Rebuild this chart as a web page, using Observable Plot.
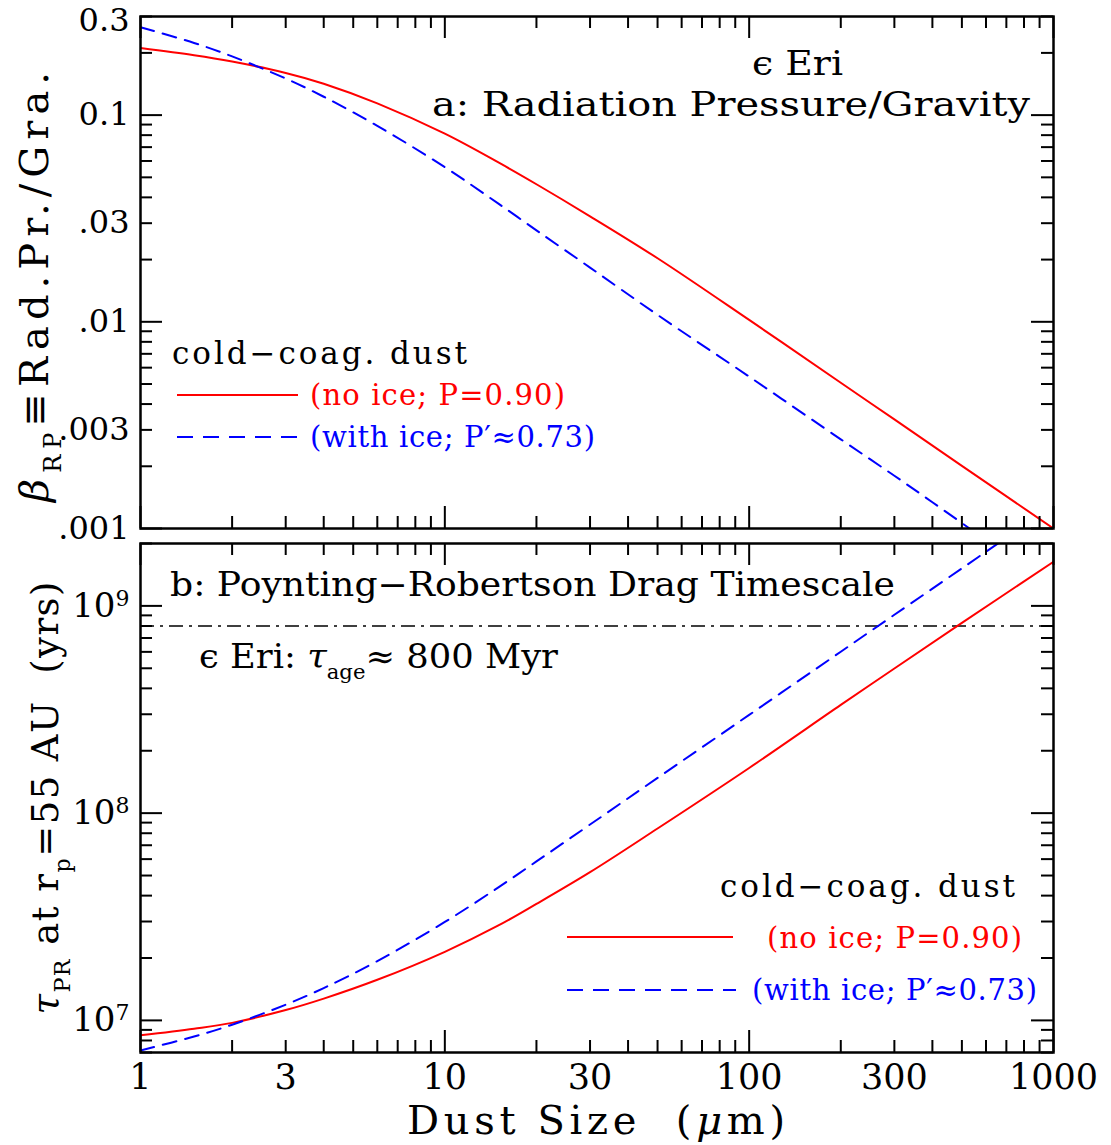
<!DOCTYPE html>
<html>
<head>
<meta charset="utf-8">
<script src="https://cdn.jsdelivr.net/npm/d3@7"></script>
<script src="https://cdn.jsdelivr.net/npm/@observablehq/plot@0.6"></script>
<style>
  html, body { margin: 0; padding: 0; background: #ffffff; }
  #wrap { position: relative; width: 1111px; height: 1145px; background: #ffffff; }
  #wrap svg { position: absolute; left: 0; top: 0; }
</style>
</head>
<body>
<div id="wrap"></div>
<script>
// ---------------- data ----------------
const sizesNoIce = [1, 1.5, 2, 3, 4, 6, 10, 15, 20, 30, 50, 100, 200, 300, 500, 1000];
const betaNoIce  = [0.2113, 0.1950, 0.1816, 0.1600, 0.1419, 0.1140, 0.0813, 0.0590, 0.0463, 0.0324, 0.0203, 0.01021, 0.00507, 0.00337, 0.00201, 0.0010];
const sizesIce   = [1, 1.5, 2, 3, 4, 6, 10, 15, 20, 30, 50, 100, 200, 300, 400, 530];
const betaIce    = [0.266, 0.2234, 0.1923, 0.1503, 0.1227, 0.0887, 0.0560, 0.0373, 0.0277, 0.0183, 0.0108, 0.00543, 0.00270, 0.00180, 0.00134, 0.0010];

const sizesTauNoIce = [1, 1.5, 2, 3, 4, 6, 10, 15, 20, 30, 50, 100, 200, 300, 500, 1000];
const tauNoIce      = [8.47e6, 9.12e6, 9.73e6, 1.122e7, 1.274e7, 1.570e7, 2.143e7, 2.871e7, 3.648e7, 5.19e7, 8.43e7, 1.652e8, 3.327e8, 4.989e8, 8.28e8, 1.633e9];
const sizesTauIce   = [1, 1.5, 2, 3, 4, 6, 10, 15, 20, 30, 50, 100, 200, 300, 500, 700];
const tauIce        = [7.16e6, 8.36e6, 9.53e6, 1.191e7, 1.432e7, 1.932e7, 2.985e7, 4.385e7, 5.848e7, 8.81e7, 1.479e8, 2.979e8, 6.01e8, 9.06e8, 1.517e9, 2.133e9];

const ageEpsEri = [8e8];

const xTicks       = [1, 3, 10, 30, 100, 300, 1000];
const xTickLabels  = ["1", "3", "10", "30", "100", "300", "1000"];
const betaTicks      = [0.3, 0.1, 0.03, 0.01, 0.003, 0.001];
const betaTickLabels = ["0.3", "0.1", ".03", ".01", ".003", ".001"];
const tauTicks      = [1e7, 1e8, 1e9];
const tauTickLabels = ["10^7", "10^8", "10^9"];

const xDomain    = [1, 1000];
const betaDomain = [0.001, 0.3];
const tauDomain  = [7e6, 2e9];

// ---------------- helpers ----------------
const RED = "#ff0000", BLUE = "#0000ff";
const SERIF = "'DejaVu Serif', 'Liberation Serif', serif";

function logMinor(decades, lo, hi) {
  const out = [];
  for (const k of decades) for (let m = 2; m <= 9; m++) {
    const v = +(m * k).toPrecision(6);
    if (v >= lo * 0.9999 && v <= hi * 1.0001) out.push(v);
  }
  return out;
}

function frameTicks(xMajor, xMinor, yMajor, yMinor, fw, fh) {
  const ML = 22, ml = 12, sw = 2;
  return [
    Plot.tickX(xMajor, {x: d => d, insetTop: fh - ML, strokeWidth: sw}),
    Plot.tickX(xMajor, {x: d => d, insetBottom: fh - ML, strokeWidth: sw}),
    Plot.tickX(xMinor, {x: d => d, insetTop: fh - ml, strokeWidth: sw}),
    Plot.tickX(xMinor, {x: d => d, insetBottom: fh - ml, strokeWidth: sw}),
    Plot.tickY(yMajor, {y: d => d, insetRight: fw - ML, strokeWidth: sw}),
    Plot.tickY(yMajor, {y: d => d, insetLeft: fw - ML, strokeWidth: sw}),
    Plot.tickY(yMinor, {y: d => d, insetRight: fw - ml, strokeWidth: sw}),
    Plot.tickY(yMinor, {y: d => d, insetLeft: fw - ml, strokeWidth: sw})
  ];
}

function rich(svg, {x, y, parts, size, family = SERIF, fill = "black", anchor = "start", rotate = 0, length = null, adjust = "spacing"}) {
  const t = d3.select(svg).append("text")
    .attr("transform", `translate(${x},${y}) rotate(${rotate})`)
    .attr("font-size", size)
    .attr("font-family", family)
    .attr("fill", fill)
    .attr("text-anchor", anchor)
    .style("white-space", "pre");
  if (length) t.attr("textLength", length).attr("lengthAdjust", adjust);
  let shift = 0;
  for (const p of parts) {
    const [str, kind] = typeof p === "string" ? [p, null] : p;
    const ts = t.append("tspan").text(str);
    const target = kind === "sub" ? 0.32 * size : kind === "sup" ? -0.42 * size : 0;
    if (target - shift !== 0) ts.attr("dy", target - shift);
    shift = target;
    if (kind === "sub" || kind === "sup") ts.attr("font-size", size * 0.6);
    if (kind === "it") ts.attr("font-style", "italic");
  }
  return t;
}

function legendLine(svg, x1, x2, y, color, dash) {
  const l = d3.select(svg).append("line")
    .attr("x1", x1).attr("x2", x2).attr("y1", y).attr("y2", y)
    .attr("stroke", color).attr("stroke-width", 2);
  if (dash) l.attr("stroke-dasharray", dash);
}

// ---------------- layout ----------------
const W = 1111, H = 1145;
const ML = 140, MR = 58;
const topFrame = {top: 16, bottom: 528};
const botFrame = {top: 543, bottom: 1052};
const FW = W - ML - MR;

const xMajor = [1, 10, 100, 1000];
const xMinor = logMinor([1, 10, 100], 1, 1000);

// ---------------- panel a ----------------
const betaMajor = [0.001, 0.01, 0.1];
const betaMinor = logMinor([0.001, 0.01, 0.1], 0.001, 0.3);
const fhA = topFrame.bottom - topFrame.top;

const plotA = Plot.plot({
  width: W, height: H,
  marginLeft: ML, marginRight: MR, marginTop: topFrame.top, marginBottom: H - topFrame.bottom,
  style: {background: "transparent", overflow: "visible"},
  x: {type: "log", domain: xDomain, axis: null},
  y: {type: "log", domain: betaDomain},
  marks: [
    Plot.line(betaNoIce, {x: sizesNoIce, y: betaNoIce, stroke: RED, strokeWidth: 2, curve: "catmull-rom", clip: true}),
    Plot.line(betaIce, {x: sizesIce, y: betaIce, stroke: BLUE, strokeWidth: 2, strokeDasharray: "14,9", curve: "catmull-rom", clip: true}),
    ...frameTicks(xMajor, xMinor, betaMajor, betaMinor, FW, fhA),
    Plot.axisY({ticks: betaTicks, tickFormat: d => betaTickLabels[betaTicks.indexOf(d)], tickSize: 0, tickPadding: 11,
                fontSize: 32, fontFamily: SERIF}),
    Plot.frame({strokeWidth: 2.5})
  ]
});

// ---------------- panel b ----------------
const tauMajor = [1e7, 1e8, 1e9];
const tauMinor = logMinor([1e6, 1e7, 1e8, 1e9], 7e6, 2e9);
const fhB = botFrame.bottom - botFrame.top;

const plotB = Plot.plot({
  width: W, height: H,
  marginLeft: ML, marginRight: MR, marginTop: botFrame.top, marginBottom: H - botFrame.bottom,
  style: {background: "transparent", overflow: "visible"},
  x: {type: "log", domain: xDomain},
  y: {type: "log", domain: tauDomain},
  marks: [
    Plot.ruleY(ageEpsEri, {y: d => d, strokeWidth: 1.6, strokeDasharray: "14,6,3,6"}),
    Plot.line(tauNoIce, {x: sizesTauNoIce, y: tauNoIce, stroke: RED, strokeWidth: 2, curve: "catmull-rom", clip: true}),
    Plot.line(tauIce, {x: sizesTauIce, y: tauIce, stroke: BLUE, strokeWidth: 2, strokeDasharray: "14,9", curve: "catmull-rom", clip: true}),
    ...frameTicks(xMajor, xMinor, tauMajor, tauMinor, FW, fhB),
    Plot.axisY({ticks: tauTicks, tickFormat: d => tauTickLabels[tauTicks.indexOf(d)], tickSize: 0, tickPadding: 11,
                fontSize: 34, fontFamily: SERIF}),
    Plot.axisX({ticks: xTicks, tickFormat: d => xTickLabels[xTicks.indexOf(d)], tickSize: 0, tickPadding: 12,
                fontSize: 35, fontFamily: SERIF}),
    Plot.frame({strokeWidth: 2.5})
  ]
});

const wrap = document.getElementById("wrap");
wrap.appendChild(plotA);
wrap.appendChild(plotB);

// nudge the top-edge label "0.3" slightly down so it stays inside the picture
d3.select(plotA).selectAll('g[aria-label="y-axis tick label"] text').each(function () {
  if (this.textContent === "0.3") d3.select(this).attr("dy", 4);
});

// superscript exponents on the tau tick labels
d3.select(plotB).selectAll('g[aria-label="y-axis tick label"] text').each(function () {
  const txt = this.textContent;
  if (!txt.includes("^")) return;
  const [base, exp] = txt.split("^");
  const s = d3.select(this);
  s.text(null);
  s.append("tspan").text(base);
  s.append("tspan").attr("font-size", 22).attr("dy", "-0.5em").text(exp);
});

// ---------------- annotations, panel a ----------------
rich(plotA, {x: 752, y: 75, parts: ["ϵ Eri"], size: 33, length: 91, adjust: "spacingAndGlyphs"});
rich(plotA, {x: 432, y: 116, parts: ["a: Radiation Pressure/Gravity"], size: 33, length: 598, adjust: "spacingAndGlyphs"});
rich(plotA, {x: 172, y: 364, parts: ["cold−coag. dust"], size: 31, length: 295});
legendLine(plotA, 177, 298, 395, RED, null);
rich(plotA, {x: 310, y: 405, parts: ["(no ice; P=0.90)"], size: 29, fill: RED, length: 255});
legendLine(plotA, 177, 298, 437, BLUE, "16,10");
rich(plotA, {x: 310, y: 447, parts: ["(with ice; P′≈0.73)"], size: 29, fill: BLUE, length: 285});

// y title, panel a
rich(plotA, {x: 48, y: 287, rotate: -90, anchor: "middle", size: 40, length: 430,
  parts: [["β", "it"], ["RP", "sub"], "≡Rad.Pr./Gra."]});

// ---------------- annotations, panel b ----------------
rich(plotB, {x: 170, y: 596, parts: ["b: Poynting−Robertson Drag Timescale"], size: 33, length: 725, adjust: "spacingAndGlyphs"});
rich(plotB, {x: 199, y: 668, parts: ["ϵ Eri: ", ["τ", "it"], ["age", "sub"], "≈ 800 Myr"], size: 33, length: 359, adjust: "spacingAndGlyphs"});
rich(plotB, {x: 720, y: 897, parts: ["cold−coag. dust"], size: 31, length: 295});
legendLine(plotB, 567, 733, 937, RED, null);
rich(plotB, {x: 767, y: 948, parts: ["(no ice; P=0.90)"], size: 29, fill: RED, length: 255});
legendLine(plotB, 567, 736, 990, BLUE, "16,10");
rich(plotB, {x: 752, y: 1000, parts: ["(with ice; P′≈0.73)"], size: 29, fill: BLUE, length: 285});

// y title, panel b
rich(plotB, {x: 58, y: 798, rotate: -90, anchor: "middle", size: 37, length: 433,
  parts: [["τ", "it"], ["PR", "sub"], " at r", ["p", "sub"], "=55 AU  (yrs)"]});

// x title
rich(plotB, {x: 596, y: 1134, anchor: "middle", size: 40, length: 378,
  parts: ["Dust Size  (", ["μ", "it"], "m)"]});
</script>
</body>
</html>
